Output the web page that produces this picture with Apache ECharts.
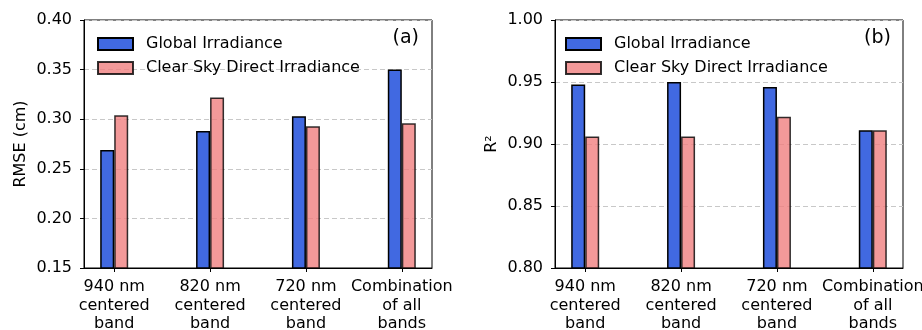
<!DOCTYPE html>
<html>
<head>
<meta charset="utf-8">
<script src="https://cdn.jsdelivr.net/npm/echarts@6/dist/echarts.min.js"></script>
<style>
  html, body { margin: 0; padding: 0; background: #fff; }
  #chart { width: 922px; height: 330px; }
</style>
</head>
<body>
<div id="chart"></div>
<script>
const categories = ['940 nm\ncentered\nband', '820 nm\ncentered\nband', '720 nm\ncentered\nband', 'Combination\nof all\nbands']
const seriesNames = ['Global Irradiance', 'Clear Sky Direct Irradiance']

// (a) RMSE (cm)
const rmseGlobal = [0.269, 0.288, 0.303, 0.350]
const rmseClear = [0.304, 0.322, 0.293, 0.296]
// (b) R²
const r2Global = [0.948, 0.950, 0.946, 0.911]
const r2Clear = [0.906, 0.906, 0.922, 0.911]

const FONT = 'DejaVu Sans'
const blue = '#4169E1'
const pink = 'rgba(240,128,128,0.8)'

const toPairs = (arr) => arr.map((v, i) => [i, v])

function xAxisFor(gridIndex) {
  return {
    type: 'value',
    gridIndex: gridIndex,
    min: -0.315,
    max: 3.315,
    axisLine: { show: true, onZero: false, lineStyle: { color: '#000', width: 1 } },
    axisTick: { show: true, length: 4, customValues: [0, 1, 2, 3], lineStyle: { color: '#000' } },
    axisLabel: {
      customValues: [0, 1, 2, 3],
      formatter: (v) => categories[Math.round(v)],
      fontFamily: FONT,
      fontSize: 16,
      lineHeight: 18.5,
      color: '#000',
      margin: 10,
      verticalAlign: 'top',
    },
    splitLine: { show: false },
  }
}

function yAxisFor(gridIndex, name, min, max, nameGap) {
  return {
    type: 'value',
    gridIndex: gridIndex,
    min: min,
    max: max,
    interval: 0.05,
    name: name,
    nameLocation: 'middle',
    nameGap: nameGap,
    nameTextStyle: { fontFamily: FONT, fontSize: 16, color: '#000' },
    axisLine: { show: true, onZero: false, lineStyle: { color: '#000', width: 1 } },
    axisTick: { show: true, length: 4, lineStyle: { color: '#000' } },
    axisLabel: {
      formatter: (v) => v.toFixed(2),
      fontFamily: FONT,
      fontSize: 16,
      color: '#000',
      margin: 12,
    },
    splitLine: { show: true, lineStyle: { color: '#c8c8c8', type: [5, 3], width: 1 } },
  }
}

function barSeries(name, data, axisIdx, color, edge) {
  return {
    name: name,
    type: 'bar',
    xAxisIndex: axisIdx,
    yAxisIndex: axisIdx,
    barWidth: 14,
    barGap: '0%',
    data: toPairs(data),
    itemStyle: { color: color, borderColor: edge, borderWidth: 1.5 },
  }
}

function legendFor(left) {
  return {
    data: seriesNames.map((n) => ({ name: n, icon: 'rect' })),
    orient: 'vertical',
    left: left,
    top: 36,
    padding: 0,
    itemWidth: 35,
    itemHeight: 12,
    itemGap: 8,
    textStyle: { fontFamily: FONT, fontSize: 16, color: '#000', padding: [0, 0, 0, 8] },
    selectedMode: false,
  }
}

const chart = echarts.init(document.getElementById('chart'))
const option = {
  animation: false,
  backgroundColor: '#fff',
  textStyle: { fontFamily: FONT },
  title: [
    { text: '(a)', right: 498, top: 24, textStyle: { fontFamily: FONT, fontSize: 19, fontWeight: 'normal', color: '#000' } },
    { text: '(b)', right: 26, top: 24, textStyle: { fontFamily: FONT, fontSize: 19, fontWeight: 'normal', color: '#000' } },
  ],
  legend: [legendFor(97), legendFor(565)],
  grid: [
    { left: 84, right: 490, top: 20, bottom: 62, outerBoundsMode: 'none', show: true, borderColor: '#000', borderWidth: 1 },
    { left: 555, right: 19, top: 20, bottom: 62, outerBoundsMode: 'none', show: true, borderColor: '#000', borderWidth: 1 },
  ],
  xAxis: [xAxisFor(0), xAxisFor(1)],
  yAxis: [
    yAxisFor(0, 'RMSE (cm)', 0.15, 0.40, 55),
    yAxisFor(1, 'R²', 0.80, 1.00, 55),
  ],
  series: [
    barSeries(seriesNames[0], rmseGlobal, 0, blue, '#000'),
    barSeries(seriesNames[1], rmseClear, 0, pink, 'rgba(0,0,0,0.8)'),
    barSeries(seriesNames[0], r2Global, 1, blue, '#000'),
    barSeries(seriesNames[1], r2Clear, 1, pink, 'rgba(0,0,0,0.8)'),
  ],
}
chart.setOption(option)
</script>
</body>
</html>
